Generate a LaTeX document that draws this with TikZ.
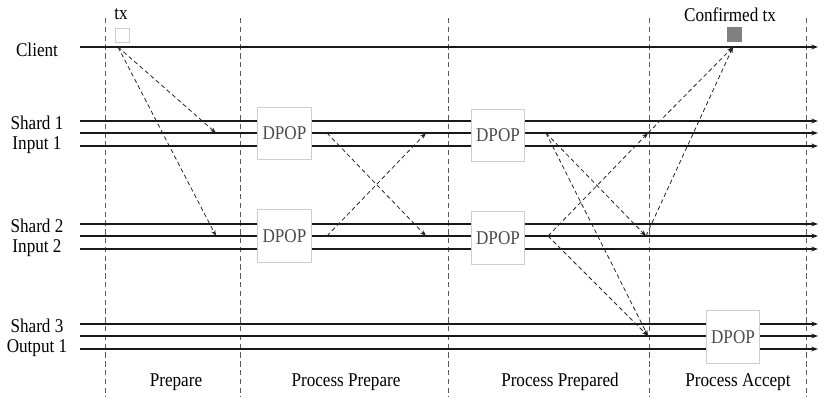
\documentclass[tikz,border=0pt]{standalone}
\usepackage{fontspec}
\setmainfont{Liberation Serif}[FakeStretch=0.88]
\usetikzlibrary{arrows.meta}
\definecolor{boxgray}{RGB}{205,205,205}
\definecolor{txtgray}{RGB}{75,75,75}
\definecolor{phasegray}{RGB}{90,90,90}

\begin{document}
\begin{tikzpicture}[x=0.75pt,y=-0.75pt,font=\fontsize{14.6}{16}\selectfont,line join=round,
  lane/.style={black!90,line width=1.1pt,-{Stealth[length=5pt,width=3.6pt]}},
  msg/.style={black!85,line width=0.6pt,dash pattern=on 3.2pt off 2.2pt,-{Stealth[length=4.5pt,width=3.2pt]}},
  phase/.style={phasegray,line width=0.7pt,dash pattern=on 4pt off 2.6pt},
  dpop/.style={draw=boxgray,fill=white,line width=0.8pt,minimum width=40pt,minimum height=39.5pt,inner sep=0pt,text=txtgray},
  lanelabel/.style={anchor=center}]
\useasboundingbox (0,0) rectangle (832,412);
% phase boundaries
\foreach \x in {105,240,448,649,806}
  \draw[phase] (\x,18) -- (\x,397);
% lanes
\foreach \n/\y in {c/47,s1a/121,s1b/133,s1c/146,s2a/224,s2b/236,s2c/249,s3a/324,s3b/336,s3c/349} {
  \coordinate (\n-w) at (80,\y);
  \coordinate (\n-e) at (818,\y);
  \draw[lane] (\n-w) -- (\n-e);
}
% lane names
\node[lanelabel] (client) at (37,50) {Client};
\node[lanelabel] (shard1) at (37,123) {Shard 1};
\node[lanelabel] (input1) at (37,145) {Input 1};
\node[lanelabel] (shard2) at (37,226) {Shard 2};
\node[lanelabel] (input2) at (37,248) {Input 2};
\node[lanelabel] (shard3) at (37,326) {Shard 3};
\node[lanelabel] (output1) at (37,348) {Output 1};
% transaction
\node[draw=boxgray,fill=white,line width=0.7pt,minimum size=10.5pt,inner sep=0pt] (txbox) at (122,35) {};
\node (txlabel) at (121,14) {tx};
\node[fill=black!50,minimum size=11pt,inner sep=0pt] (confbox) at (734.5,34.5) {};
\node (conflabel) at (730,15) {Confirmed tx};
% DPOP boxes
\node[dpop] (dp1a) at (284.5,133.5) {DPOP};
\node[dpop] (dp2a) at (284.5,236) {DPOP};
\node[dpop] (dp1b) at (498,135.5) {DPOP};
\node[dpop] (dp2b) at (498,238) {DPOP};
\node[dpop] (dp3) at (733,337) {DPOP};
% message points
\coordinate (tx0) at (118,47);
\coordinate (a1) at (216,133);
\coordinate (a2) at (216,236);
\coordinate (b1) at (327,133);
\coordinate (b2) at (327,236);
\coordinate (c1) at (426,133);
\coordinate (c2) at (426,236);
\coordinate (d1) at (546,133);
\coordinate (d2) at (548,236);
\coordinate (e1) at (648,133);
\coordinate (e2) at (646,236);
\coordinate (e3) at (648,336);
\coordinate (f) at (733,47);
% messages
\draw[msg] (tx0) -- (a1);
\draw[msg] (tx0) -- (a2);
\draw[msg] (b1) -- (c2);
\draw[msg] (b2) -- (c1);
\draw[msg] (d1) -- (e2);
\draw[msg] (d1) -- (e3);
\draw[msg] (d2) -- (e1);
\draw[msg] (d2) -- (e3);
\draw[msg] (e1) -- (f);
\draw[msg] (e2) -- (f);
% phase names
\node (prepare) at (176,382) {Prepare};
\node (procprep) at (346,382) {Process Prepare};
\node (procprepd) at (560,382) {Process Prepared};
\node (procacc) at (738,382) {Process Accept};
\end{tikzpicture}
\end{document}
